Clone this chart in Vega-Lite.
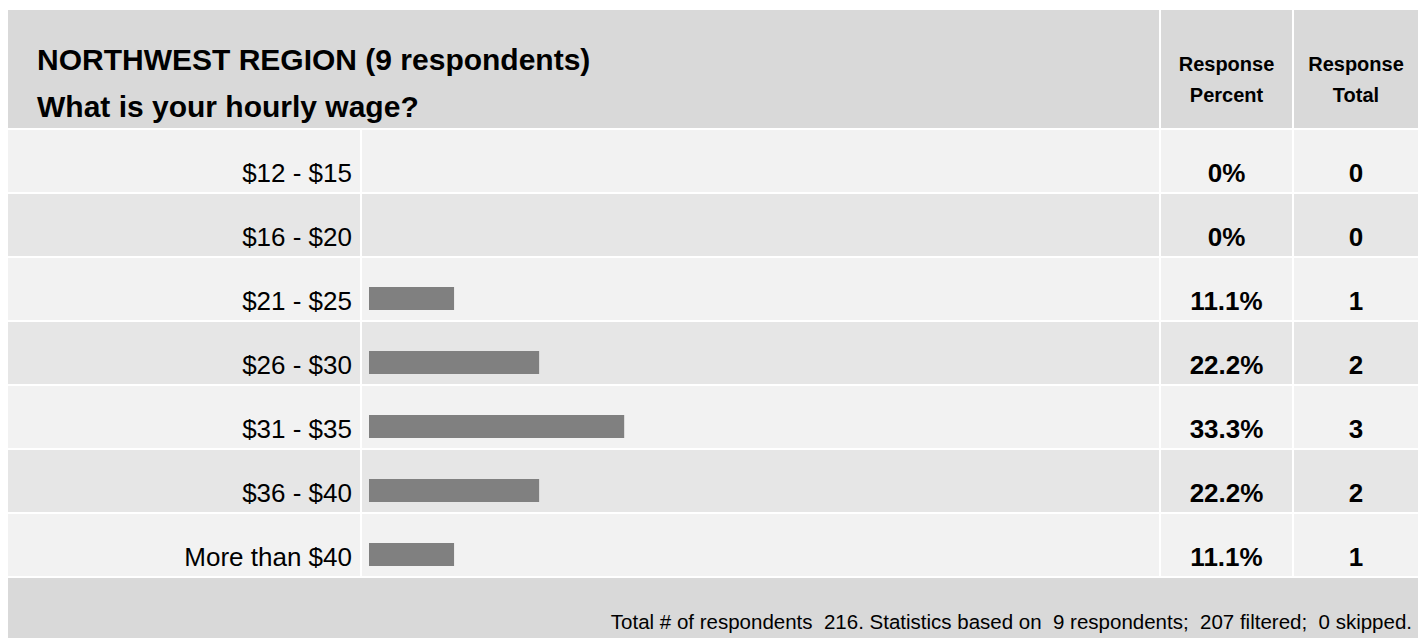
{
  "$schema": "https://vega.github.io/schema/vega-lite/v6.json",
  "background": "white",
  "padding": {"left": 8, "top": 10, "right": 0, "bottom": 0},
  "config": {
    "view": {"stroke": null},
    "font": "Liberation Sans",
    "text": {"color": "#000000"}
  },
  "datasets": {
    "rows": [
      {"range": "$12 - $15", "pct": 0, "count": 0},
      {"range": "$16 - $20", "pct": 0, "count": 0},
      {"range": "$21 - $25", "pct": 0.111, "count": 1},
      {"range": "$26 - $30", "pct": 0.222, "count": 2},
      {"range": "$31 - $35", "pct": 0.333, "count": 3},
      {"range": "$36 - $40", "pct": 0.222, "count": 2},
      {"range": "More than $40", "pct": 0.111, "count": 1}
    ],
    "head": [
      {"panel": "title", "line": "1", "text": "NORTHWEST REGION (9 respondents)"},
      {"panel": "title", "line": "2", "text": "What is your hourly wage?"},
      {"panel": "pct", "line": "1", "text": "Response"},
      {"panel": "pct", "line": "2", "text": "Percent"},
      {"panel": "tot", "line": "1", "text": "Response"},
      {"panel": "tot", "line": "2", "text": "Total"}
    ],
    "foot": [
      {"text": "Total # of respondents \u00a0216. Statistics based on \u00a09 respondents; \u00a0207 filtered; \u00a00 skipped."}
    ]
  },
  "spacing": 2,
  "vconcat": [
    {
      "spacing": 2,
      "hconcat": [
        {
          "width": 1151, "height": 118,
          "view": {"fill": "#d9d9d9", "stroke": null},
          "data": {"name": "head"},
          "transform": [{"filter": "datum.panel === 'title'"}],
          "mark": {"type": "text", "align": "left", "baseline": "alphabetic", "dx": 29, "dy": 24.5, "fontSize": 30, "fontWeight": "bold"},
          "encoding": {
            "x": {"value": 0},
            "y": {"field": "line", "type": "ordinal", "axis": null, "scale": {"type": "point", "padding": 0.755}},
            "text": {"field": "text"}
          }
        },
        {
          "width": 131, "height": 118,
          "view": {"fill": "#d9d9d9", "stroke": null},
          "data": {"name": "head"},
          "transform": [{"filter": "datum.panel === 'pct'"}],
          "layer": [
            {
              "transform": [{"filter": "datum.line === '1'"}],
              "mark": {"type": "text", "align": "center", "baseline": "alphabetic", "dy": 2, "fontSize": 20, "fontWeight": "bold"},
              "encoding": {"text": {"field": "text"}}
            },
            {
              "transform": [{"filter": "datum.line === '2'"}],
              "mark": {"type": "text", "align": "center", "baseline": "alphabetic", "dy": 32.7, "fontSize": 20, "fontWeight": "bold"},
              "encoding": {"text": {"field": "text"}}
            }
          ]
        },
        {
          "width": 124, "height": 118,
          "view": {"fill": "#d9d9d9", "stroke": null},
          "data": {"name": "head"},
          "transform": [{"filter": "datum.panel === 'tot'"}],
          "layer": [
            {
              "transform": [{"filter": "datum.line === '1'"}],
              "mark": {"type": "text", "align": "center", "baseline": "alphabetic", "dy": 2, "fontSize": 20, "fontWeight": "bold"},
              "encoding": {"text": {"field": "text"}}
            },
            {
              "transform": [{"filter": "datum.line === '2'"}],
              "mark": {"type": "text", "align": "center", "baseline": "alphabetic", "dy": 32.7, "fontSize": 20, "fontWeight": "bold"},
              "encoding": {"text": {"field": "text"}}
            }
          ]
        }
      ]
    },
    {
      "spacing": 2,
      "hconcat": [
        {
          "width": 352, "height": 446,
          "data": {"name": "rows"},
          "encoding": {
            "y": {"field": "range", "type": "nominal", "sort": null, "axis": null, "scale": {"paddingInner": 0.03125, "paddingOuter": 0}}
          },
          "layer": [
            {
              "mark": {"type": "rect"},
              "encoding": {
                "x": {"value": 0}, "x2": {"value": "width"},
                "color": {"field": "range", "type": "nominal", "sort": null, "legend": null,
                  "scale": {"range": ["#f2f2f2", "#e6e6e6", "#f2f2f2", "#e6e6e6", "#f2f2f2", "#e6e6e6", "#f2f2f2"]}}
              }
            },
            {
              "mark": {"type": "text", "align": "right", "baseline": "alphabetic", "dx": -8, "dy": 21, "fontSize": 26},
              "encoding": {
                "x": {"value": "width"},
                "text": {"field": "range"}
              }
            }
          ]
        },
        {
          "width": 797, "height": 446,
          "data": {"name": "rows"},
          "encoding": {
            "y": {"field": "range", "type": "nominal", "sort": null, "axis": null, "scale": {"paddingInner": 0.03125, "paddingOuter": 0}}
          },
          "layer": [
            {
              "mark": {"type": "rect"},
              "encoding": {
                "x": {"value": 0}, "x2": {"value": "width"},
                "color": {"field": "range", "type": "nominal", "sort": null, "legend": null}
              }
            },
            {
              "mark": {"type": "bar", "color": "#808080", "height": 23, "yOffset": 9.5, "xOffset": 7},
              "encoding": {
                "x": {"field": "pct", "type": "quantitative", "axis": null, "scale": {"domain": [0, 1.04], "nice": false}}
              }
            }
          ]
        },
        {
          "width": 131, "height": 446,
          "data": {"name": "rows"},
          "encoding": {
            "y": {"field": "range", "type": "nominal", "sort": null, "axis": null, "scale": {"paddingInner": 0.03125, "paddingOuter": 0}}
          },
          "layer": [
            {
              "mark": {"type": "rect"},
              "encoding": {
                "x": {"value": 0}, "x2": {"value": "width"},
                "color": {"field": "range", "type": "nominal", "sort": null, "legend": null}
              }
            },
            {
              "mark": {"type": "text", "align": "center", "baseline": "alphabetic", "dy": 21, "fontSize": 26, "fontWeight": "bold"},
              "encoding": {
                "text": {"field": "pct", "type": "quantitative", "format": ".1~%"}
              }
            }
          ]
        },
        {
          "width": 124, "height": 446,
          "data": {"name": "rows"},
          "encoding": {
            "y": {"field": "range", "type": "nominal", "sort": null, "axis": null, "scale": {"paddingInner": 0.03125, "paddingOuter": 0}}
          },
          "layer": [
            {
              "mark": {"type": "rect"},
              "encoding": {
                "x": {"value": 0}, "x2": {"value": "width"},
                "color": {"field": "range", "type": "nominal", "sort": null, "legend": null}
              }
            },
            {
              "mark": {"type": "text", "align": "center", "baseline": "alphabetic", "dy": 21, "fontSize": 26, "fontWeight": "bold"},
              "encoding": {
                "text": {"field": "count", "type": "quantitative"}
              }
            }
          ]
        }
      ]
    },
    {
      "width": 1410, "height": 60,
      "view": {"fill": "#d9d9d9", "stroke": null},
      "data": {"name": "foot"},
      "mark": {"type": "text", "align": "right", "baseline": "alphabetic", "dx": -6, "dy": 21, "fontSize": 20.5},
      "encoding": {
        "x": {"value": "width"},
        "text": {"field": "text"}
      }
    }
  ]
}
